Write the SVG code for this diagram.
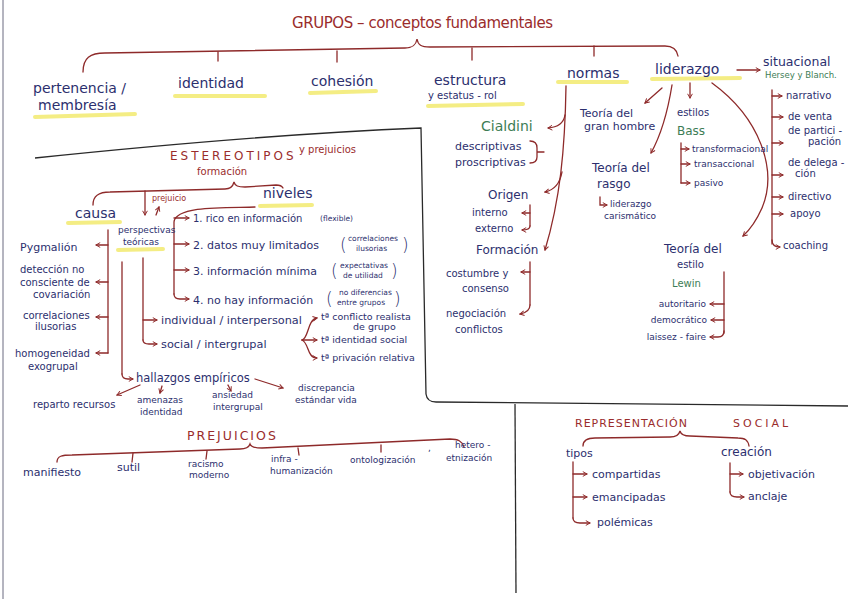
<svg xmlns="http://www.w3.org/2000/svg" width="848" height="599" viewBox="0 0 848 599">
<defs>
<marker id="ah" viewBox="0 0 10 10" refX="8" refY="5" markerWidth="6" markerHeight="6" markerUnits="userSpaceOnUse" orient="auto">
<path d="M1,1 L8,5 L1,9" fill="none" stroke="#8e2a2a" stroke-width="1.6"/>
</marker>
<style>
text{font-family:"DejaVu Sans","Liberation Sans",sans-serif;fill:#2c2f6e;font-size:11px}
.r{fill:#9a2c2c}
.g{fill:#3d7d55}
.t14{font-size:14px}
.t12{font-size:12px}
.t10{font-size:10px}
.t9{font-size:9px}
.t8{font-size:7.5px}
.tt{font-size:9.5px}
.par{font-size:17px;font-weight:200}
.c{fill:none;stroke:#8e2a2a;stroke-width:1.3;stroke-linecap:round}
.a{marker-end:url(#ah)}
.hl{fill:none;stroke:#f2ea6e;stroke-width:4;stroke-linecap:round;opacity:.85}
.frame{fill:none;stroke:#2a2a2a;stroke-width:1.3}
</style>
</defs>
<rect width="848" height="599" fill="#ffffff"/>
<line x1="3" y1="0" x2="3" y2="599" stroke="#6a6a80" stroke-width="1"/>

<g id="frames">
<path class="frame" d="M35,158 C150,146 300,133 421,128 L426,394 Q427,402 436,402 L848,406"/>
<path class="frame" d="M515,404 L516,593"/>
</g>

<g id="highlights">
<path class="hl" d="M35,117 L135,114"/>
<path class="hl" d="M175,96 L265,96"/>
<path class="hl" d="M310,93 L376,91"/>
<path class="hl" d="M428,106 L523,104"/>
<path class="hl" d="M558,82 L627,82"/>
<path class="hl" d="M652,79 L740,78"/>
<path class="hl" d="M68,223 L120,222"/>
<path class="hl" d="M118,250 L163,249"/>
<path class="hl" d="M260,206 L312,205"/>
</g>

<g id="connectors">
<path class="c" d="M83,72 C83,58 90,53 105,53 L405,48 C413,48 416,45 417,39 C418,45 421,47 430,47 L665,46 C673,46 677,50 678,56"/>
<path class="c" d="M218,52 V61 M337,51 V62 M472,48 V60 M594,46 V56"/>
<path class="c a" d="M737,70 H760"/>
<path class="c" d="M772,90 V244"/>
<path class="c a" d="M772,96 H782"/>
<path class="c a" d="M772,117 H783"/>
<path class="c a" d="M772,143 H783"/>
<path class="c a" d="M772,175 H783"/>
<path class="c a" d="M772,197 H783"/>
<path class="c a" d="M772,214 H783"/>
<path class="c a" d="M772,240 Q772,247 780,247"/>
<path class="c a" d="M712,83 C760,118 778,170 762,208 Q754,226 743,236"/>
<path class="c a" d="M662,88 L645,103"/>
<path class="c a" d="M672,85 C668,110 661,135 651,153"/>
<path class="c a" d="M690,83 V98"/>
<path class="c a" d="M600,197 V205 H607"/>
<path class="c" d="M681,143 V183"/>
<path class="c a" d="M681,149 H689"/>
<path class="c a" d="M681,164 H690"/>
<path class="c a" d="M681,183 H690"/>
<path class="c" d="M724,272 V333"/>
<path class="c a" d="M724,304 H710"/>
<path class="c a" d="M724,320 H711"/>
<path class="c a" d="M724,331 Q724,337 718,337 H710"/>
<path class="c a" d="M566,86 C565,150 560,200 545,250"/>
<path class="c a" d="M565,115 Q563,127 548,128"/>
<path class="c a" d="M562,172 Q559,189 545,192"/>
<path class="c" d="M530,141 Q537,141 537,148 V157 Q537,163 530,163 M537,152 H544"/>
<path class="c" d="M530,205 V226"/>
<path class="c a" d="M530,213 H522"/>
<path class="c a" d="M530,226 Q530,230 522,230"/>
<path class="c" d="M530,262 V305"/>
<path class="c a" d="M530,272 H521"/>
<path class="c a" d="M530,305 Q530,312 520,314"/>
<path class="c" d="M93,205 C93,196 98,192 110,192 L225,189 C231,189 233,186 234,182 C235,186 238,187 245,187 L276,185 C280,185 282,186 283,188"/>
<path class="c a" d="M145,191 V215"/>
<path class="c a" d="M156,215 L159,207"/>
<path class="c" d="M108,230 V353"/>
<path class="c a" d="M108,245 H96"/>
<path class="c a" d="M108,282 H96"/>
<path class="c a" d="M108,317 H96"/>
<path class="c a" d="M108,353 H96"/>
<path class="c" d="M255,207 C230,208 176,205 174,222 V294"/>
<path class="c a" d="M174,218 H189"/>
<path class="c a" d="M174,244 H189"/>
<path class="c a" d="M174,270 H189"/>
<path class="c a" d="M174,294 Q174,299 180,299 H189"/>
<path class="c" d="M143,258 V340"/>
<path class="c a" d="M143,320 H157"/>
<path class="c a" d="M143,340 Q143,344 149,344 H157"/>
<path class="c" d="M122,262 V374"/>
<path class="c a" d="M122,374 Q122,379 128,379 H133"/>
<path class="c a" d="M302,340 C309,338 307,320 317,318"/>
<path class="c a" d="M302,340 H317"/>
<path class="c a" d="M302,340 C309,343 307,358 317,358"/>
<path class="c a" d="M140,385 L117,395"/>
<path class="c a" d="M162,386 L160,393"/>
<path class="c a" d="M228,385 L231,391"/>
<path class="c a" d="M255,379 L283,388"/>
<path class="c" d="M57,462 C57,456 62,455 72,455 L240,449 C246,449 249,447 250,444 C251,447 254,448 262,448 L450,439 C458,439 462,441 464,447"/>
<path class="c" d="M133,453 L132,462 M207,451 L206,459 M298,448 L299,455 M381,445 L381,452"/>
<path class="c" d="M583,446 C583,440 587,438 595,438 L670,437 C676,437 679,435 680,431 C681,435 684,436 690,436 L738,438 C745,438 748,440 749,446"/>
<path class="c" d="M573,462 V518"/>
<path class="c a" d="M573,474 H587"/>
<path class="c a" d="M573,497 H587"/>
<path class="c a" d="M573,518 Q573,523 580,523 H590"/>
<path class="c" d="M730,463 V492"/>
<path class="c a" d="M730,474 H743"/>
<path class="c a" d="M730,492 Q730,497 737,497 H744"/>
</g>

<g id="title"><text class="r" x="292" y="28" style="font-size:15px" textLength="261">GRUPOS – conceptos fundamentales</text></g>

<g id="pertenencia"><text class="t14" x="33" y="93">pertenencia /</text><text class="t14" x="38" y="110">membresía</text></g>
<g id="identidad"><text class="t14" x="178" y="88">identidad</text></g>
<g id="cohesion"><text class="t14" x="311" y="86">cohesión</text></g>
<g id="estructura"><text class="t14" x="434" y="85">estructura</text><text class="t10" x="428" y="99">y estatus - rol</text></g>
<g id="normas"><text class="t14" x="567" y="78">normas</text></g>
<g id="liderazgo"><text class="t14" x="655" y="74">liderazgo</text></g>

<g id="situacional"><text x="763" y="66" style="font-size:12.5px">situacional</text><text class="g" x="765" y="78" style="font-size:8.5px">Hersey y Blanch.</text></g>
<g id="narrativo"><text class="t10" x="786" y="99">narrativo</text></g>
<g id="deventa"><text class="t10" x="788" y="120">de venta</text></g>
<g id="departicipacion"><text class="t10" x="788" y="134">de partici -</text><text class="t10" x="808" y="145">pación</text></g>
<g id="dedelegacion"><text class="t10" x="788" y="166">de delega -</text><text class="t10" x="795" y="177">ción</text></g>
<g id="directivo"><text class="t10" x="788" y="200">directivo</text></g>
<g id="apoyo"><text class="t10" x="790" y="217">apoyo</text></g>
<g id="coaching"><text class="t10" x="783" y="249">coaching</text></g>

<g id="granhombre"><text x="580" y="117">Teoría del</text><text x="584" y="130">gran hombre</text></g>
<g id="rasgo"><text class="t12" x="592" y="172">Teoría del</text><text class="t12" x="597" y="188">rasgo</text><text class="t9" x="610" y="207">liderazgo</text><text class="t9" x="604" y="219">carismático</text></g>
<g id="estilos"><text class="t10" x="677" y="116">estilos</text><text class="g t12" x="677" y="135">Bass</text></g>
<g id="transformacional"><text class="t9" x="692" y="152">transformacional</text></g>
<g id="transaccional"><text class="t9" x="694" y="167">transaccional</text></g>
<g id="pasivo"><text class="t9" x="694" y="186">pasivo</text></g>
<g id="teoriaestilo"><text class="t12" x="664" y="253">Teoría del</text><text class="t10" x="677" y="268">estilo</text><text class="g t10" x="672" y="287">Lewin</text></g>
<g id="autoritario"><text class="t9" x="706" y="307" text-anchor="end">autoritario</text></g>
<g id="democratico"><text class="t9" x="707" y="323" text-anchor="end">democrático</text></g>
<g id="laissez"><text class="t9" x="706" y="340" text-anchor="end">laissez - faire</text></g>

<g id="cialdini"><text class="g t14" x="481" y="131">Cialdini</text><text x="455" y="150">descriptivas</text><text x="455" y="166">proscriptivas</text></g>
<g id="origen"><text class="t12" x="488" y="199">Origen</text><text class="t10" x="472" y="216">interno</text><text class="t10" x="475" y="232">externo</text></g>
<g id="formacionnormas"><text class="t12" x="476" y="254">Formación</text><text class="t10" x="446" y="277">costumbre y</text><text class="t10" x="462" y="292">consenso</text><text class="t10" x="446" y="317">negociación</text><text class="t10" x="455" y="333">conflictos</text></g>

<g id="estereotipos"><text class="r t12" x="170" y="160" letter-spacing="3">ESTEREOTIPOS</text><text class="r t10" x="299" y="153">y prejuicios</text><text class="r t10" x="197" y="175">formación</text><text class="r" x="152" y="201" style="font-size:8px">prejuicio</text></g>
<g id="causa"><text class="t14" x="75" y="218">causa</text></g>
<g id="perspectivas"><text class="t9" x="118" y="233">perspectivas</text><text class="t9" x="123" y="245">teóricas</text></g>
<g id="niveles"><text class="t14" x="263" y="198">niveles</text></g>

<g id="pygmalion"><text x="20" y="251">Pygmalión</text></g>
<g id="deteccion"><text class="t10" x="20" y="273">detección no</text><text class="t10" x="20" y="286">consciente de</text><text class="t10" x="33" y="298">covariación</text></g>
<g id="correlaciones"><text class="t10" x="23" y="319">correlaciones</text><text class="t10" x="35" y="330">ilusorias</text></g>
<g id="homogeneidad"><text class="t10" x="15" y="357">homogeneidad</text><text class="t10" x="28" y="370">exogrupal</text></g>

<g id="nivel1"><text class="t10" x="193" y="222">1. rico en información</text><text class="t8" x="320" y="221">(flexible)</text></g>
<g id="nivel2"><text x="193" y="249">2. datos muy limitados</text><text class="par" x="340" y="251">(</text><text class="t8" x="348" y="241">correlaciones</text><text class="t8" x="356" y="251">ilusorias</text><text class="par" x="402" y="251">)</text></g>
<g id="nivel3"><text x="193" y="275">3. información mínima</text><text class="par" x="331" y="277">(</text><text class="t8" x="340" y="268">expectativas</text><text class="t8" x="343" y="278">de utilidad</text><text class="par" x="391" y="277">)</text></g>
<g id="nivel4"><text x="193" y="304">4. no hay información</text><text class="par" x="326" y="305">(</text><text class="t8" x="339" y="295">no diferencias</text><text class="t8" x="337" y="305">entre grupos</text><text class="par" x="394" y="305">)</text></g>

<g id="individual"><text x="161" y="324" style="font-size:11.3px">individual / interpersonal</text></g>
<g id="social"><text x="161" y="348" style="font-size:11.3px">social / intergrupal</text></g>
<g id="conflicto"><text class="tt" x="321" y="320">tª conflicto realista</text><text class="tt" x="353" y="330">de grupo</text></g>
<g id="identidadsocial"><text class="tt" x="321" y="343">tª identidad social</text></g>
<g id="privacion"><text class="tt" x="321" y="361">tª privación relativa</text></g>

<g id="hallazgos"><text x="136" y="382" style="font-size:11.5px">hallazgos empíricos</text></g>
<g id="reparto"><text class="t10" x="33" y="408">reparto recursos</text></g>
<g id="amenazas"><text class="t9" x="137" y="403">amenazas</text><text class="t9" x="140" y="415">identidad</text></g>
<g id="ansiedad"><text class="t9" x="212" y="398">ansiedad</text><text class="t9" x="213" y="410">intergrupal</text></g>
<g id="discrepancia"><text class="t9" x="298" y="391">discrepancia</text><text class="t9" x="295" y="403">estándar vida</text></g>

<g id="prejuicios"><text class="r" x="187" y="440" style="font-size:12.5px" letter-spacing="2">PREJUICIOS</text></g>
<g id="manifiesto"><text x="23" y="476">manifiesto</text></g>
<g id="sutil"><text x="117" y="471">sutil</text></g>
<g id="racismo"><text class="t9" x="188" y="467">racismo</text><text class="t9" x="189" y="478">moderno</text></g>
<g id="infra"><text class="t9" x="271" y="462">infra -</text><text class="t9" x="270" y="474">humanización</text></g>
<g id="ontologizacion"><text class="t9" x="350" y="463">ontologización</text></g>
<g id="hetero"><text class="t9" x="455" y="448">hetero -</text><text class="t9" x="446" y="461">etnización</text><text class="t9" x="428" y="451">,</text></g>

<g id="representacion"><text class="r" x="575" y="427" letter-spacing="1">REPRESENTACIÓN</text><text class="r" x="733" y="427" letter-spacing="3">SOCIAL</text></g>
<g id="tipos"><text x="566" y="457">tipos</text></g>
<g id="compartidas"><text x="592" y="478">compartidas</text></g>
<g id="emancipadas"><text x="592" y="501">emancipadas</text></g>
<g id="polemicas"><text x="597" y="526">polémicas</text></g>
<g id="creacion"><text class="t12" x="721" y="456">creación</text></g>
<g id="objetivacion"><text x="748" y="478">objetivación</text></g>
<g id="anclaje"><text x="748" y="500">anclaje</text></g>
</svg>
